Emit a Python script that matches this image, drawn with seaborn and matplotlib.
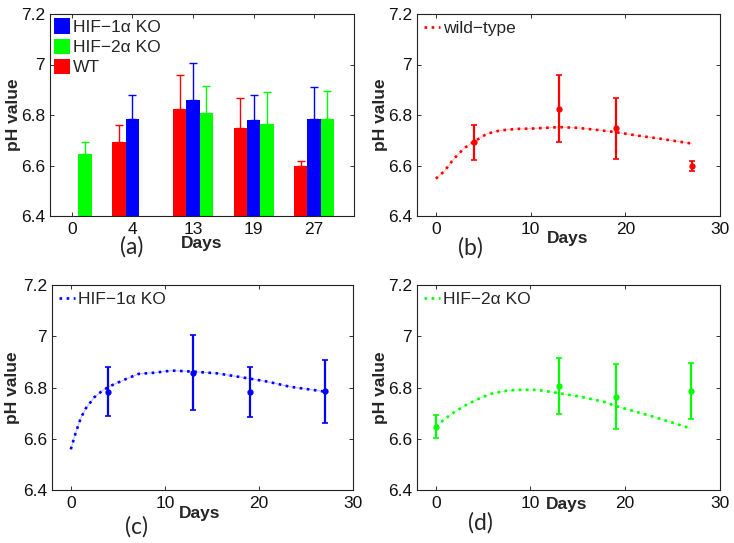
import matplotlib
matplotlib.use("Agg")
import matplotlib.pyplot as plt
import pandas as pd
import seaborn as sns

# ---- data ----
days = [0, 4, 13, 19, 27]
day_labels = ['0', '4', '13', '19', '27']

wt_days = [4, 13, 19, 27]
wt_mean = [6.692, 6.825, 6.747, 6.598]
wt_err = [0.069, 0.133, 0.120, 0.021]

hif1_days = [4, 13, 19, 27]
hif1_mean = [6.784, 6.858, 6.781, 6.786]
hif1_err = [0.095, 0.146, 0.098, 0.123]

hif2_days = [0, 13, 19, 27]
hif2_mean = [6.647, 6.806, 6.764, 6.786]
hif2_err = [0.045, 0.108, 0.126, 0.108]

# fitted curves (dotted lines)
wt_fit_days = [0, 0.9, 1.9, 3.0, 3.9, 5.4, 6.8, 8.6, 10, 13, 15, 17, 19, 21.2, 23.7, 27]
wt_fit_ph = [6.548, 6.578, 6.627, 6.669, 6.692, 6.726, 6.739, 6.745, 6.746, 6.752,
             6.749, 6.741, 6.732, 6.719, 6.706, 6.687]

hif1_fit_days = [0, 0.5, 1.05, 1.6, 2.5, 3.3, 4.2, 5.8, 7.2, 9, 10.7, 13, 15.6, 18.8, 20.9, 23.3, 27]
hif1_fit_ph = [6.559, 6.621, 6.680, 6.719, 6.762, 6.786, 6.806, 6.832, 6.853, 6.858,
               6.866, 6.862, 6.855, 6.836, 6.823, 6.803, 6.784]

hif2_fit_days = [0, 0.9, 1.9, 3.2, 4.4, 5.8, 7.2, 8.6, 10.7, 13, 15.3, 17.7, 19, 23, 27]
hif2_fit_ph = [6.647, 6.676, 6.703, 6.732, 6.754, 6.775, 6.786, 6.791, 6.791, 6.778,
               6.764, 6.745, 6.728, 6.686, 6.640]

y_ticks = [6.4, 6.6, 6.8, 7.0, 7.2]
y_tick_labels = ['6.4', '6.6', '6.8', '7', '7.2']
x_ticks = [0, 10, 20, 30]

LABEL_WT = 'WT'
LABEL_HIF1 = 'HIF\u22121\u03b1 KO'
LABEL_HIF2 = 'HIF\u22122\u03b1 KO'
RED, BLUE, GREEN = '#ff0000', '#0000ff', '#00ff00'

sns.set_theme(style='ticks')
plt.rcParams['font.family'] = ['Liberation Sans', 'DejaVu Sans']
plt.rcParams.update({
    'xtick.direction': 'in', 'ytick.direction': 'in',
    'xtick.top': True, 'ytick.right': True,
    'xtick.major.size': 3, 'ytick.major.size': 3,
    'xtick.major.width': 0.6, 'ytick.major.width': 0.6,
    'xtick.major.pad': 4, 'ytick.major.pad': 3.5,
    'xtick.labelsize': 12.5, 'ytick.labelsize': 12.5,
    'xtick.color': '#111111', 'ytick.color': '#111111',
    'axes.edgecolor': '#222222', 'axes.linewidth': 0.8,
})

W, H = 734, 543
fig = plt.figure(figsize=(W / 100, H / 100), dpi=100)


def px_axes(l, t, r, b):
    return fig.add_axes([l / W, 1 - b / H, (r - l) / W, (b - t) / H])


ax_a = px_axes(50, 14, 353.5, 216)
ax_b = px_axes(417, 14, 720, 216)
ax_c = px_axes(52, 285, 353, 490)
ax_d = px_axes(417, 285, 719.5, 490)


def style_axes(ax, ylab_px, ax_left, ax_width, xlab_pos):
    ax.set_ylim(6.4, 7.2)
    ax.set_yticks(y_ticks)
    ax.set_yticklabels(y_tick_labels)
    ax.set_ylabel('pH value', fontsize=12.5, fontweight='bold')
    ax.yaxis.set_label_coords((ylab_px - ax_left) / ax_width, 0.5)
    ax.set_xlabel('Days', fontsize=12.5, fontweight='bold')
    ax.xaxis.set_label_coords(*xlab_pos)
    for s in ax.spines.values():
        s.set_visible(True)


# ---- (a) grouped bars ----
rows = []
for lab, dd, mm in [(LABEL_WT, wt_days, wt_mean), (LABEL_HIF1, hif1_days, hif1_mean),
                    (LABEL_HIF2, hif2_days, hif2_mean)]:
    for d, m in zip(dd, mm):
        rows.append({'day': str(d), 'group': lab, 'ph': m})
bars = pd.DataFrame(rows)
hue_order = [LABEL_WT, LABEL_HIF1, LABEL_HIF2]
errs = {LABEL_WT: dict(zip(wt_days, wt_err)),
        LABEL_HIF1: dict(zip(hif1_days, hif1_err)),
        LABEL_HIF2: dict(zip(hif2_days, hif2_err))}
colors = {LABEL_WT: RED, LABEL_HIF1: BLUE, LABEL_HIF2: GREEN}

sns.barplot(data=bars, x='day', y='ph', hue='group', order=day_labels, hue_order=hue_order,
            palette=[RED, BLUE, GREEN], width=0.66, errorbar=None, saturation=1,
            linewidth=0, ax=ax_a)

for cont, grp in zip(ax_a.containers, hue_order):
    for p in cont:
        xc = p.get_x() + p.get_width() / 2
        d = days[int(round(xc))]
        ax_a.errorbar(xc, p.get_height(), yerr=[[0], [errs[grp][d]]], fmt='none',
                      ecolor=colors[grp], elinewidth=1.0, capsize=3, capthick=1.0, zorder=3)

ax_a.set_xlim(-0.36, 4.65)
ax_a.set_xticks(range(len(days)))
ax_a.set_xticklabels(day_labels)
style_axes(ax_a, 20.5, 50, 303.5, (0.5, -0.1))
h, l = ax_a.get_legend_handles_labels()
order = [l.index(LABEL_HIF1), l.index(LABEL_HIF2), l.index(LABEL_WT)]
ax_a.legend([h[i] for i in order], [l[i] for i in order], loc='upper left', frameon=False,
            fontsize=12.5, handlelength=0.9, handleheight=1.0, handletextpad=0.15,
            labelspacing=0.2, borderpad=0.1, borderaxespad=0.15)


# ---- (b)-(d) fitted curves with error bars ----
def line_panel(ax, fx, fy, dd, mm, ee, color, label, ylab_px, ax_left, ax_width, xlab_pos):
    sns.lineplot(x=fx, y=fy, color=color, lw=0.8, alpha=0.25, ax=ax, legend=False)
    sns.lineplot(x=fx, y=fy, color=color, lw=1.9, linestyle=(0, (1, 1.7)), label=label, ax=ax)
    ax.errorbar(dd, mm, yerr=ee, fmt='o', ms=3.5, color=color, elinewidth=1.6,
                capsize=2, capthick=1.2, zorder=3)
    ax.set_xlim(-2, 30)
    ax.set_xticks(x_ticks)
    ax.set_xticklabels([str(t) for t in x_ticks])
    style_axes(ax, ylab_px, ax_left, ax_width, xlab_pos)
    hh, ll = ax.get_legend_handles_labels()
    ax.legend(hh[-1:], ll[-1:], loc='upper left', frameon=False, fontsize=12.5,
              handlelength=0.9, handletextpad=0.2, borderpad=0.2, borderaxespad=0.2)


line_panel(ax_b, wt_fit_days, wt_fit_ph, wt_days, wt_mean, wt_err, RED, 'wild\u2212type',
           388.5, 417, 303, (0.498, -0.075))
line_panel(ax_c, hif1_fit_days, hif1_fit_ph, hif1_days, hif1_mean, hif1_err, BLUE, LABEL_HIF1,
           19.5, 52, 301, (0.492, -0.078))
line_panel(ax_d, hif2_fit_days, hif2_fit_ph, hif2_days, hif2_mean, hif2_err, GREEN, LABEL_HIF2,
           387.5, 417, 302.5, (0.494, -0.036))

# panel letters
for txt, x, y in [('(a)', 131.7, 247), ('(b)', 470, 248), ('(c)', 136.7, 527), ('(d)', 480, 523)]:
    fig.text(x / W, 1 - y / H, txt, ha='center', va='center', fontsize=16.5, family=['Lato', 'DejaVu Sans'])

fig.savefig('out.png', dpi=100)
